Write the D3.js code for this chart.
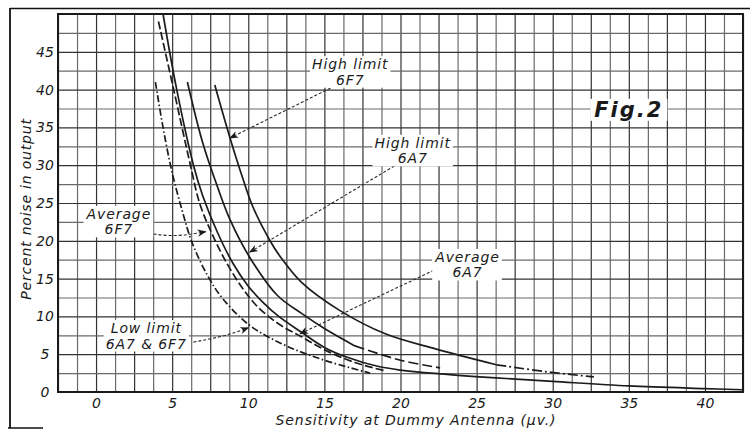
<!DOCTYPE html>
<html><head><meta charset="utf-8">
<script src="https://cdn.jsdelivr.net/npm/d3@7"></script>
<style>
body{margin:0;background:#fff}
svg{display:block}
text{font-family:"DejaVu Sans",sans-serif;font-style:italic;fill:#1a1a1a}
</style>
</head><body>
<svg id="c" width="750" height="431"></svg>
<script>
// ---- data ----
const xTicks = [0, 5, 10, 15, 20, 25, 30, 35, 40];
const yTicks = [0, 5, 10, 15, 20, 25, 30, 35, 40, 45];

const lowLimit   = [[3.9,41],[4.4,35],[5.0,29],[5.7,23.7],[6.3,19.8],[7.3,15.5],[8.3,12.4],[10.1,8.8],[12.4,6.2],[15,4.2],[18,2.5]];
const avg6F7     = [[4.1,49],[5.1,40],[6.2,30],[6.8,25],[7.6,21],[8.6,17],[9.6,13.8],[10.6,11.3],[12,9],[13.5,7.3],[15,5.6],[17,3.9],[19,2.8]];
const avg6A7     = [[4.4,50],[5.3,40],[6.4,30],[7.0,26],[8,21],[9,17],[10,14],[11,11.8],[12,10],[13.5,7.9],[15,5.9],[16.5,4.6],[18.5,3.4],[20,2.9],[22.6,2.4],[26,1.9],[30,1.4],[35,0.8],[40,0.45],[42.5,0.3]];
const high6A7    = [[6.0,41],[7.0,33],[8.0,27],[8.8,22.8],[10.1,17.8],[11.9,12.8],[13.5,10.4],[15,8.4],[17,6.1],[20,4.2],[22.6,3.2]];
const high6F7    = [[7.8,40.6],[8.8,33.6],[9.6,28.5],[10.3,24.5],[11.4,20.1],[12.1,17.9],[13.5,14.5],[16,10.8],[19,7.7],[22.3,5.7],[26.3,3.6],[29.5,2.7],[32.7,2.0]];

const labelLines = [
  {lines:["High limit","6F7"], at:[16.7,42.7], from:[15.4,40.2], to:[8.8,33.6]},
  {lines:["High limit","6A7"], at:[20.8,32.3], from:[19.6,29.9], to:[10.1,18.5]},
  {lines:["Average","6A7"],    at:[24.4,17.2], from:[22.5,16.4], to:[13.4,7.7]},
  {lines:["Average","6F7"],    at:[1.5,22.9],  from:[2.5,21.4], via:[4.9,20.4], to:[7.2,21.2]},
  {lines:["Low limit","6A7 & 6F7"], at:[3.3,7.8], from:[6.4,6.6], via:[8.5,7.4], to:[10.0,8.5]}
];

// ---- layout ----
const svg = d3.select("#c");
const L = 58, R = 743, T = 14, B = 392;
const x = d3.scaleLinear([-2.5, 42.5], [L, R]);
const y = d3.scaleLinear([0, 50], [B, T]);

// outer frame
svg.append("line").attr("x1",10).attr("x2",10).attr("y1",8).attr("y2",428).attr("stroke","#111").attr("stroke-width",1.8);
svg.append("line").attr("x1",10).attr("x2",750).attr("y1",8.5).attr("y2",8.5).attr("stroke","#111").attr("stroke-width",1.5);
svg.append("line").attr("x1",8).attr("x2",43).attr("y1",428).attr("y2",428).attr("stroke","#111").attr("stroke-width",1.5);

// grid
const xGrid = d3.range(-2.5, 42.5001, 1.25);
const yGrid = d3.range(0, 50.001, 2.5);
const gx = svg.append("g").attr("transform",`translate(0,${B})`)
  .call(d3.axisBottom(x).tickValues(xGrid).tickSize(-(B-T)).tickFormat(""));
gx.select(".domain").remove();
gx.selectAll(".tick line").attr("stroke",(d,i)=> i%2===0 ? "#333" : "#6a6a6a").attr("stroke-width",1.2);
const gy = svg.append("g").attr("transform",`translate(${L},0)`)
  .call(d3.axisLeft(y).tickValues(yGrid).tickSize(-(R-L)).tickFormat(""));
gy.select(".domain").remove();
gy.selectAll(".tick line").attr("stroke",(d,i)=> i%2===0 ? "#333" : "#6a6a6a").attr("stroke-width",1.2);

// plot border
svg.append("rect").attr("x",L).attr("y",T).attr("width",R-L).attr("height",B-T)
  .attr("fill","none").attr("stroke","#1a1a1a").attr("stroke-width",2);

// tick labels
const ax = svg.append("g").attr("transform",`translate(0,${B})`)
  .call(d3.axisBottom(x).tickValues(xTicks).tickSize(0).tickPadding(6));
ax.select(".domain").remove();
ax.selectAll("text").attr("font-size",14).attr("font-family","DejaVu Sans").attr("font-style","italic").attr("fill","#1a1a1a");

const ay = svg.append("g").attr("transform",`translate(${L},0)`)
  .call(d3.axisLeft(y).tickValues(yTicks).tickSize(0));
ay.select(".domain").remove();
ay.selectAll("text").attr("font-size",14).attr("font-family","DejaVu Sans").attr("font-style","italic")
  .attr("fill","#1a1a1a").attr("text-anchor","middle").attr("x",-13);

// axis titles
svg.append("text").attr("x",416).attr("y",425).attr("text-anchor","middle")
  .attr("font-size",14).attr("letter-spacing",0.9).text("Sensitivity at Dummy Antenna (\u03BCv.)");
svg.append("text").attr("transform","translate(31,209) rotate(-90)").attr("text-anchor","middle")
  .attr("font-size",14).attr("letter-spacing",0.8).text("Percent noise in output");

// curves
const line = d3.line().x(d=>x(d[0])).y(d=>y(d[1])).curve(d3.curveCatmullRom.alpha(0.5));
const curves = svg.append("g").attr("fill","none").attr("stroke","#1c1c1c").attr("stroke-width",1.7);
function draw(vals, dash){
  curves.append("path").attr("d",line(vals)).attr("stroke-dasharray",dash||null);
}
draw(lowLimit, "7,2.5,1.5,2.5");
draw(avg6F7, "8,3");
draw(avg6A7, null);
draw(high6A7.filter(d=>d[0]<=17), null);
draw(high6A7.filter(d=>d[0]>=17), "10,4");
draw(high6F7.filter(d=>d[0]<=26.3), null);
draw(high6F7.filter(d=>d[0]>=26.3), "10,3,2,3");

// arrow marker
svg.append("defs").append("marker").attr("id","arr").attr("viewBox","0 0 10 10")
  .attr("refX",9).attr("refY",5).attr("markerWidth",9).attr("markerHeight",9)
  .attr("markerUnits","userSpaceOnUse").attr("orient","auto")
  .append("path").attr("d","M0,1 L10,5 L0,9 L3,5 Z").attr("fill","#1a1a1a");

// annotations
const lead = d3.line().x(d=>x(d[0])).y(d=>y(d[1])).curve(d3.curveBasis);
const ann = svg.append("g");
labelLines.forEach(a=>{
  const pts = a.via ? [a.from, a.via, a.to] : [a.from, a.to];
  ann.append("path").attr("d",lead(pts)).attr("fill","none").attr("stroke","#2a2a2a")
    .attr("stroke-width",1.1).attr("stroke-dasharray","3,2").attr("marker-end","url(#arr)");
});
labelLines.forEach(a=>{
  const g = ann.append("g");
  a.lines.forEach((t,i)=>{
    g.append("text").attr("x",x(a.at[0])).attr("y",y(a.at[1])+i*15.5)
      .attr("text-anchor","middle").attr("font-size",14).attr("letter-spacing",0.9).text(t);
  });
  const bb = g.node().getBBox();
  g.insert("rect","text").attr("x",bb.x-2).attr("y",bb.y).attr("width",bb.width+4).attr("height",bb.height)
    .attr("fill","#fff");
});

// figure label
const fg = svg.append("g");
fg.append("text").attr("x",x(35)).attr("y",y(36.4)).attr("text-anchor","middle")
  .attr("font-size",21).attr("letter-spacing",2).attr("font-weight","bold").text("Fig.2");
const fb = fg.node().getBBox();
fg.insert("rect","text").attr("x",fb.x-4).attr("y",fb.y+1).attr("width",fb.width+8).attr("height",fb.height-2).attr("fill","#fff");
</script>
</body></html>
